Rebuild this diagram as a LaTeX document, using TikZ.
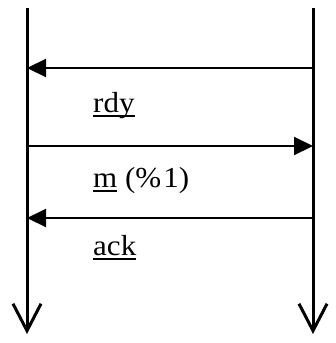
\documentclass[tikz,border=0pt]{standalone}
\usepackage{fontspec}
\setmainfont{Liberation Serif}[FakeStretch=1.07]
\usepackage{tikz}
\usetikzlibrary{positioning,arrows.meta}

% message name, underlined with a heavier rule
\newcommand{\msgname}[1]{\setbox0\hbox{#1}\leavevmode\rlap{\rule[-5pt]{\wd0}{2pt}}\box0}

\begin{document}
\begin{tikzpicture}[x=1pt, y=-1pt,
    lifeline/.style={line width=3pt, -{Straight Barb[length=27pt, width=28pt, line width=3pt]}},
    msg/.style={line width=2.1pt, -{Triangle[length=19pt, width=18pt]}},
    msglabel/.style={anchor=base west, inner sep=0pt, font=\fontsize{29}{33}\selectfont}]
  \useasboundingbox (0,0) rectangle (335,343);
  % lifelines
  \coordinate (A top) at (27,8);
  \coordinate (A bot) at (27,334);
  \coordinate (B top) at (313,8);
  \coordinate (B bot) at (313,334);
  \draw[lifeline] (A top) -- (A bot);
  \draw[lifeline] (B top) -- (B bot);
  % messages
  \foreach \i/\y in {1/68, 2/146, 3/218} {
    \coordinate (A\i) at (27,\y);
    \coordinate (B\i) at (313,\y);
  }
  \draw[msg] (B1) -- (A1);
  \draw[msg] (A2) -- (B2);
  \draw[msg] (B3) -- (A3);
  \node[msglabel] (rdy) at (93,112) {\msgname{rdy}};
  \node[msglabel] (m) at (93,187) {\msgname{m}\ (\%\kern2pt1)};
  \node[msglabel] (ack) at (93,255) {\msgname{ack}};
\end{tikzpicture}
\end{document}
